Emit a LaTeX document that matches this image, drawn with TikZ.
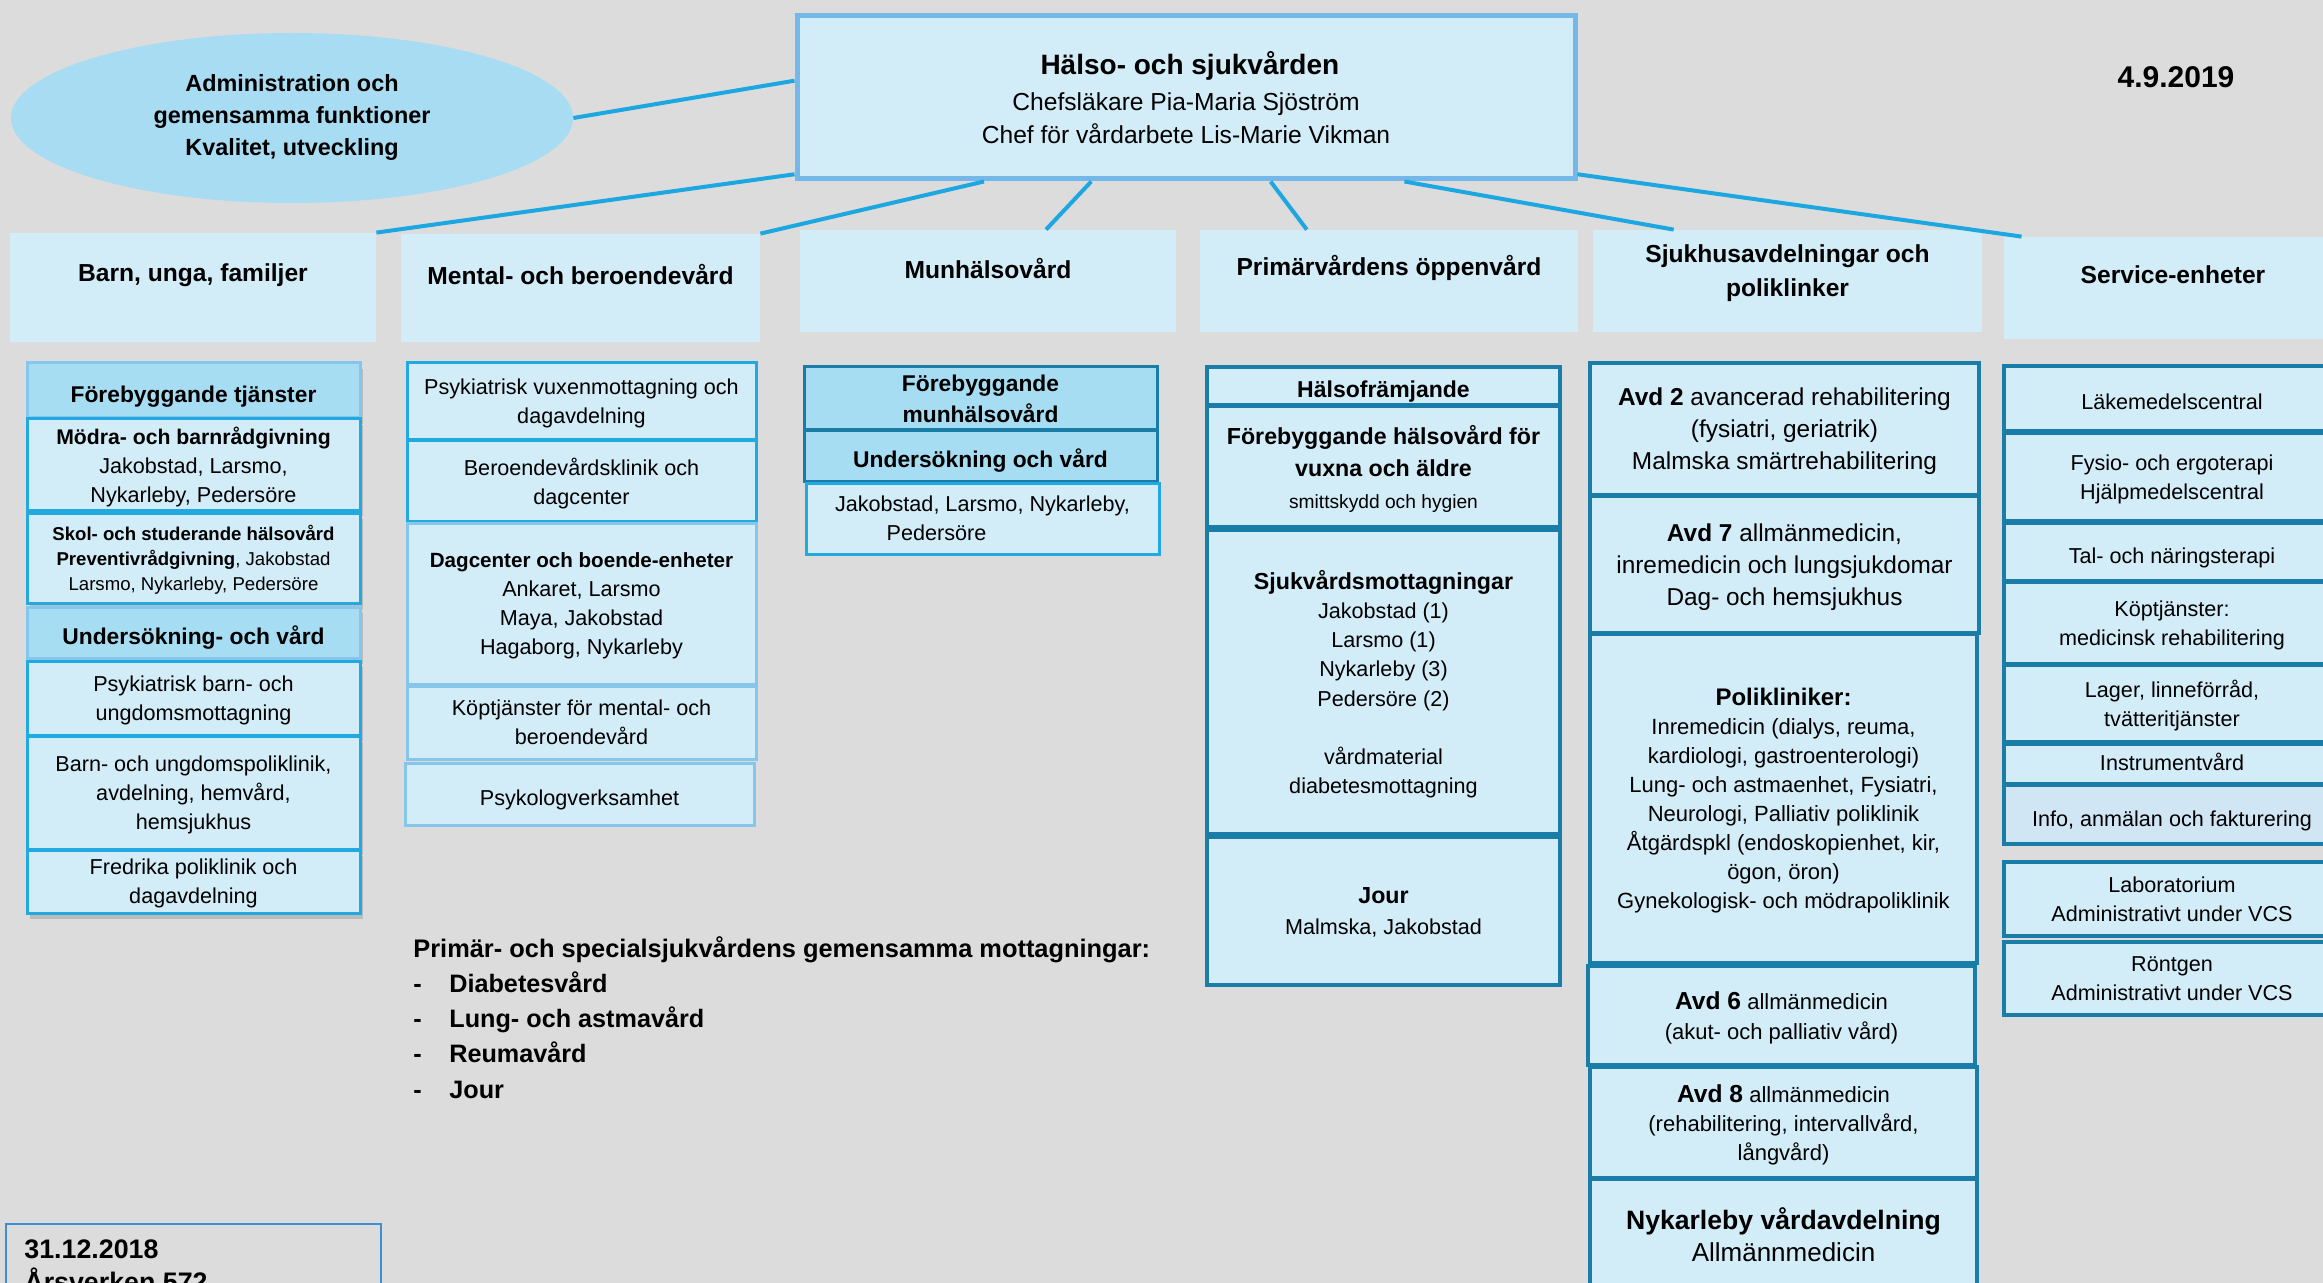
\documentclass[tikz,border=0pt]{standalone}
\usepackage{fontspec}
\setmainfont{Liberation Sans}
\usetikzlibrary{calc,shapes.geometric,shadows}

\definecolor{bgray}{HTML}{DCDCDC}
\definecolor{boxfill}{HTML}{D2ECF8}
\definecolor{headfill}{HTML}{A7DDF3}
\definecolor{ellfill}{HTML}{A8DCF2}
\definecolor{linkblue}{HTML}{1CA7E1}
\definecolor{brightblue}{HTML}{22A9E2}
\definecolor{paleblue}{HTML}{86C6EA}
\definecolor{tealblue}{HTML}{1A7DA8}
\definecolor{glowblue}{HTML}{74B8EA}
\definecolor{infofill}{HTML}{D0E6F4}
\definecolor{noteblue}{HTML}{3D8FD2}

\newcommand\fsz[2]{\fontsize{#1}{#2}\selectfont}

\tikzset{
  % box from corner (x1,y1) to corner (x2,y2), in picture units
  spot/.style n args={4}{at={({(#1+#3)/2},{(#2+#4)/2})},
    minimum width={(#3-#1)*0.5pt}, minimum height={(#4-#2)*0.5pt}},
  base/.style={inner sep=0pt, align=center, font=\fsz{10.8}{14.6}},
  lowtext/.style={text depth=0pt, execute at begin node={\rule{0pt}{11.5pt}}},
  topbox/.style={base, fill=boxfill, draw=glowblue, line width=2.5pt, font=\fsz{12.3}{16.5}},
  admell/.style={base, ellipse, fill=ellfill, minimum width=281pt, minimum height=85pt,
    font=\bfseries\fsz{11.7}{16}},
  lvltwo/.style={base, fill=boxfill},
  lvltext/.style={base, font=\bfseries\fsz{12.3}{17}},
  subbox/.style={base, lowtext, fill=boxfill, draw=brightblue, line width=1.5pt},
  palebox/.style={subbox, draw=paleblue},
  tealbox/.style={subbox, draw=tealblue, line width=1.8pt},
  headbox/.style={subbox, fill=headfill, draw=paleblue, font=\bfseries\fsz{11.4}{15.5}},
  shade/.style={drop shadow={opacity=0.35, shadow xshift=1.5pt, shadow yshift=-3pt}},
  link/.style={draw=linkblue, line width=2pt},
  notebox/.style={inner sep=0pt, draw=noteblue, line width=1pt},
}

\begin{document}
\begin{tikzpicture}[x=0.5pt,y=0.5pt,yscale=-1]
\useasboundingbox (0,0) rectangle (2323,1283);
\clip (0,0) rectangle (2323,1283);
\fill[bgray] (0,0) rectangle (2323,1283);

% top
\node[admell] (adm) at (292,118) {Administration och\\gemensamma funktioner\\Kvalitet, utveckling};
\node[topbox, spot={797}{16}{1575}{179}] (hs) {{\bfseries\fsz{14}{18} Hälso- och sjukvården}\\[1.5pt]
  Chefsläkare Pia-Maria Sjöström\\Chef för vårdarbete Lis-Marie Vikman};
\node[base, font=\bfseries\fsz{15}{18}] (date) at (2176,77) {4.9.2019};

% level two
\node[lvltwo, spot={10}{233}{376}{342}] (barn) {};
\node[lvltext] (barn-t) at ($(barn.north)+(0,43)$) {Barn, unga, familjer};
\node[lvltwo, spot={401}{234}{760}{342}] (mental) {};
\node[lvltext] (mental-t) at ($(mental.north)+(0,41)$) {Mental- och beroendevård};
\node[lvltwo, spot={800}{230}{1176}{332}] (munh) {};
\node[lvltext] (munh-t) at ($(munh.north)+(0,39)$) {Munhälsovård};
\node[lvltwo, spot={1200}{230}{1578}{332}] (prim) {};
\node[lvltext] (prim-t) at ($(prim.north)+(0,38)$) {Primärvårdens öppenvård};
\node[lvltwo, spot={1593}{230}{1982}{332}] (sjukh) {};
\node[lvltext] (sjukh-t) at ($(sjukh.north)+(0,44)$) {Sjukhusavdelningar och\\poliklinker};
\node[lvltwo, spot={2004}{237}{2342}{339}] (serv) {};
\node[lvltext] (serv-t) at ($(serv.north)+(0,38)$) {Service-enheter};

% connectors
\draw[link] (adm.east) -- ($(hs.north west)!0.40!(hs.south west)$);
\draw[link] ($(hs.north west)!0.957!(hs.south west)$) -- (barn.north east);
\draw[link] ($(hs.south west)!0.242!(hs.south east)$) -- (mental.north east);
\draw[link] ($(hs.south west)!0.379!(hs.south east)$) -- ($(munh.north west)!0.654!(munh.north east)$);
\draw[link] ($(hs.south west)!0.608!(hs.south east)$) -- ($(prim.north west)!0.283!(prim.north east)$);
\draw[link] ($(hs.south west)!0.779!(hs.south east)$) -- ($(sjukh.north west)!0.208!(sjukh.north east)$);
\draw[link] ($(hs.north east)!0.957!(hs.south east)$) -- ($(serv.north west)!0.053!(serv.north east)$);

% Barn, unga, familjer
\node[headbox, shade, spot={27}{363}{360}{418}] (bfor) {Förebyggande tjänster};
\node[subbox, shade, spot={27}{419}{360}{510}] (bmod) {{\bfseries\fsz{10.6}{14.6}Mödra- och barnrådgivning}\\Jakobstad, Larsmo,\\Nykarleby, Pedersöre};
\node[subbox, shade, spot={27}{513}{360}{603}, font=\fsz{9.3}{12.6}] (bskol) {\textbf{Skol- och studerande hälsovård}\\\textbf{Preventivrådgivning}, Jakobstad\\Larsmo, Nykarleby, Pedersöre};
\node[headbox, shade, spot={27}{607}{360}{658}] (bund) {Undersökning- och vård};
\node[subbox, shade, spot={27}{661}{360}{735}] (bpsy) {Psykiatrisk barn- och\\ungdomsmottagning};
\node[subbox, shade, spot={27}{736}{360}{849}] (bpol) {Barn- och ungdomspoliklinik,\\avdelning, hemvård,\\hemsjukhus};
\node[subbox, shade, spot={27}{850}{360}{913}] (bfred) {Fredrika poliklinik och\\dagavdelning};

% Mental- och beroendevard
\node[subbox, spot={407}{363}{756}{440}] (mpsy) {Psykiatrisk vuxenmottagning och\\dagavdelning};
\node[subbox, spot={407}{441}{756}{521}] (mber) {Beroendevårdsklinik och\\dagcenter};
\node[palebox, spot={407}{523}{756}{684}] (mdag) {{\bfseries\fsz{10.3}{14.6}Dagcenter och boende-enheter}\\Ankaret, Larsmo\\Maya, Jakobstad\\Hagaborg, Nykarleby};
\node[palebox, spot={407}{686}{756}{759}] (mkop) {Köptjänster för mental- och\\beroendevård};
\node[palebox, spot={405}{763}{754}{825}] (mpsyk) {Psykologverksamhet};

% Munhalsovard
\node[headbox, draw=tealblue, spot={804}{367}{1157}{430}] (uforeb) {Förebyggande\\munhälsovård};
\node[headbox, draw=tealblue, spot={804}{431}{1157}{481}] (uund) {Undersökning och vård};
\node[subbox, spot={806}{483}{1159}{554}] (uort) {Jakobstad, Larsmo, Nykarleby,\\Pedersöre\rule{46pt}{0pt}};

% Primarvardens oppenvard
\node[tealbox, spot={1207}{367}{1560}{405}, font=\bfseries\fsz{11.5}{15}] (phals) {Hälsofrämjande};
\node[tealbox, spot={1207}{406}{1560}{527}, font=\fsz{11.6}{16}] (pfor) {\textbf{Förebyggande hälsovård för}\\\textbf{vuxna och äldre}\\{\fsz{9.6}{14}smittskydd och hygien}};
\node[tealbox, spot={1207}{530}{1560}{834}] (psjuk) {{\bfseries\fsz{11.6}{14.6}Sjukvårdsmottagningar}\\Jakobstad (1)\\Larsmo (1)\\Nykarleby (3)\\Pedersöre (2)\\[14.6pt]vårdmaterial\\diabetesmottagning};
\node[tealbox, spot={1207}{837}{1560}{985}, font=\fsz{10.8}{15.5}] (pjour) {{\bfseries\fsz{11.6}{15.5}Jour}\\Malmska, Jakobstad};

% Sjukhusavdelningar och polikliniker
\node[tealbox, spot={1590}{363}{1979}{495}, font=\fsz{12.2}{16}] (savd2) {\textbf{Avd 2} avancerad rehabilitering\\(fysiatri, geriatrik)\\Malmska smärtrehabilitering};
\node[tealbox, spot={1590}{496}{1979}{633}, font=\fsz{12.2}{16}] (savd7) {\textbf{Avd 7} allmänmedicin,\\inremedicin och lungsjukdomar\\Dag- och hemsjukhus};
\node[tealbox, spot={1590}{634}{1977}{963}, font=\fsz{11}{14.5}] (spol) {{\bfseries\fsz{12}{14.5}Polikliniker:}\\Inremedicin (dialys, reuma,\\kardiologi, gastroenterologi)\\Lung- och astmaenhet, Fysiatri,\\Neurologi, Palliativ poliklinik\\Åtgärdspkl (endoskopienhet, kir,\\ögon, öron)\\Gynekologisk- och mödrapoliklinik};
\node[tealbox, spot={1588}{966}{1975}{1065}, font=\fsz{11}{15}] (savd6) {{\bfseries\fsz{12.3}{15}Avd 6} allmänmedicin\\(akut- och palliativ vård)};
\node[tealbox, spot={1590}{1067}{1977}{1178}, font=\fsz{11}{14.5}] (savd8) {{\bfseries\fsz{12.3}{14.5}Avd 8} allmänmedicin\\(rehabilitering, intervallvård,\\långvård)};
\node[tealbox, spot={1590}{1179}{1977}{1290}, font=\fsz{13}{16}] (snyk) {{\bfseries\fsz{13.3}{16}Nykarleby vårdavdelning}\\Allmännmedicin};

% Service-enheter
\node[tealbox, spot={2004}{366}{2340}{431}] (tlak) {Läkemedelscentral};
\node[tealbox, spot={2004}{433}{2340}{521}] (tfys) {Fysio- och ergoterapi\\Hjälpmedelscentral};
\node[tealbox, spot={2004}{523}{2340}{581}] (ttal) {Tal- och näringsterapi};
\node[tealbox, spot={2004}{582}{2340}{664}] (tkop) {Köptjänster:\\medicinsk rehabilitering};
\node[tealbox, spot={2004}{665}{2340}{742}] (tlag) {Lager, linneförråd,\\tvätteritjänster};
\node[tealbox, spot={2004}{744}{2340}{784}, execute at begin node={}, text depth=5pt] (tins) {Instrumentvård};
\node[tealbox, fill=infofill, spot={2004}{785}{2340}{844}] (tinf) {Info, anmälan och fakturering};
\node[tealbox, spot={2004}{862}{2340}{936}] (tlab) {Laboratorium\\Administrativt under VCS};
\node[tealbox, spot={2004}{942}{2340}{1015}] (tront) {Röntgen\\Administrativt under VCS};

% gemensamma mottagningar
\node[base, anchor=north west, align=left, font=\bfseries\fsz{12.6}{17.6}] (mott) at (413,936)
  {{\fsz{12.7}{17.6}Primär- och specialsjukvårdens gemensamma mottagningar:}\\
   \makebox[18pt][l]{-}Diabetesvård\\
   \makebox[18pt][l]{-}Lung- och astmavård\\
   \makebox[18pt][l]{-}Reumavård\\
   \makebox[18pt][l]{-}Jour};

% arsverken
\node[notebox, spot={6}{1224}{381}{1300}] (arsv) {};
\node[base, anchor=north west, align=left, font=\bfseries\fsz{13.4}{16.5}] (arsv-t) at ($(arsv.north west)+(19,16)$) {31.12.2018\\Årsverken 572};

\end{tikzpicture}
\end{document}
